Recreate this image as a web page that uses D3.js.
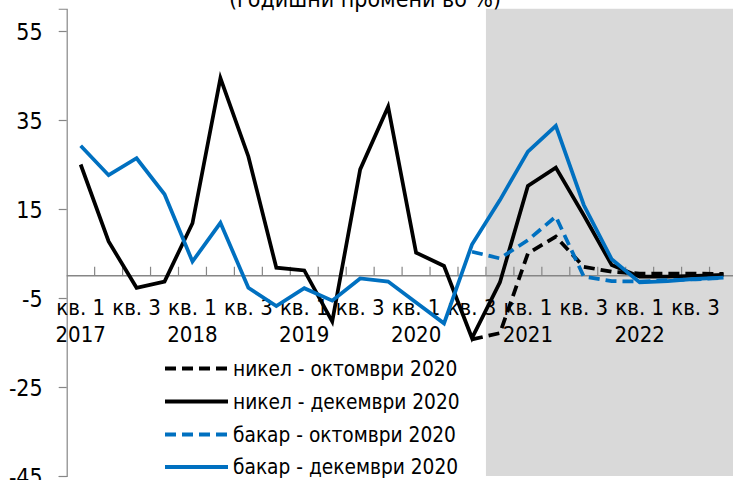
<!DOCTYPE html>
<html>
<head>
<meta charset="utf-8">
<script src="https://cdn.jsdelivr.net/npm/d3@7"></script>
<style>
  html, body { margin: 0; padding: 0; background: #fff; }
  svg { display: block; }
  text { font-family: "DejaVu Sans Condensed", "DejaVu Sans", sans-serif; font-stretch: condensed; fill: #000; }
</style>
</head>
<body>
<svg id="chart" width="733" height="480"></svg>
<script>
// Quarterly axis: 2017 Q1 … 2022 Q4
const years = [2017, 2018, 2019, 2020, 2021, 2022];
const quarterNames = ["кв. 1", "кв. 2", "кв. 3", "кв. 4"];
const yTicks = [-45, -25, -5, 15, 35, 55];

// Annual changes in %, projections (December 2020 round)
const nickelDec = [25.0, 7.7, -2.7, -1.3, 11.8, 44.4, 26.8, 1.8, 1.2, -10.3, 23.9, 38.0,
                   5.2, 2.2, -14.0, -1.5, 20.2, 24.3, 13.6, 2.4, -0.2, -0.2, 0.0, 0.2];
const copperDec = [29.2, 22.6, 26.4, 18.3, 3.2, 11.9, -2.7, -6.8, -2.8, -5.6, -0.6, -1.3,
                   -6.0, -10.7, 7.0, 17.0, 27.9, 33.7, 15.9, 3.7, -1.5, -1.2, -0.7, -0.4];
// Previous round (October 2020), from 2020 Q3 onward
const nickelOct = [null, null, null, null, null, null, null, null, null, null, null, null,
                   null, null, -14.3, -12.9, 5.0, 8.8, 2.0, 0.9, 0.5, 0.5, 0.5, 0.4];
const copperOct = [null, null, null, null, null, null, null, null, null, null, null, null,
                   null, null, 5.4, 3.9, 8.0, 13.3, -0.2, -1.2, -1.3, -1.0, -0.8, -0.5];

// First forecast quarter (2020 Q4) starts the shaded band
const forecastStart = 15;

const seriesDefs = [
  { name: "никел - октомври 2020", values: nickelOct, color: "#000000", dash: "11,6" },
  { name: "никел - декември 2020", values: nickelDec, color: "#000000", dash: null },
  { name: "бакар - октомври 2020", values: copperOct, color: "#0070C0", dash: "11,6" },
  { name: "бакар - декември 2020", values: copperDec, color: "#0070C0", dash: null }
];

const categories = [];
years.forEach(yr => quarterNames.forEach((q, k) => categories.push({ year: yr, q: k, label: q })));

const svg = d3.select("#chart");
const left = 66.7, bandW = 27.95;
const x = d3.scaleBand().domain(d3.range(categories.length))
  .range([left, left + bandW * categories.length]).paddingInner(0).paddingOuter(0);
const cx = i => x(i) + x.bandwidth() / 2;
const y = d3.scaleLinear().domain([-45, 60]).range([476, 8.75]);

// Forecast shading
svg.append("rect")
  .attr("x", x(forecastStart)).attr("y", y(60))
  .attr("width", 733 - x(forecastStart)).attr("height", y(-45) - y(60))
  .attr("fill", "#d9d9d9");

// Title (upper part runs past the top edge)
svg.append("text")
  .attr("x", 365).attr("y", 6.5)
  .attr("text-anchor", "middle").attr("font-size", 23)
  .text("(годишни промени во %)");

// Y axis (plain hyphen for negatives)
const yAxis = svg.append("g").attr("transform", `translate(${left},0)`)
  .call(d3.axisLeft(y).tickValues(yTicks).tickSize(8).tickPadding(16).tickFormat(d => String(d)));
yAxis.select(".domain").attr("stroke", "#868686").attr("stroke-width", 1.2);
yAxis.selectAll(".tick line").attr("stroke", "#868686").attr("stroke-width", 1.2);
yAxis.selectAll(".tick text").attr("font-size", 23).attr("dy", "0.36em")
  .style("font-family", "'DejaVu Sans Condensed', 'DejaVu Sans', sans-serif");

// Category axis along zero
const y0 = y(0);
const xg = svg.append("g");
xg.append("line").attr("x1", left).attr("x2", x.range()[1])
  .attr("y1", y0).attr("y2", y0).attr("stroke", "#868686").attr("stroke-width", 1.5);
xg.selectAll("line.tk").data(d3.range(1, categories.length + 1)).join("line")
  .attr("class", "tk")
  .attr("x1", i => left + bandW * i).attr("x2", i => left + bandW * i)
  .attr("y1", y0).attr("y2", y0 - 9)
  .attr("stroke", "#868686").attr("stroke-width", 1.2);

const labelled = categories.map((c, i) => ({ c, i })).filter(d => d.c.q % 2 === 0);
xg.selectAll("text.q").data(labelled).join("text")
  .attr("class", "q").attr("x", d => cx(d.i)).attr("y", 314.5)
  .attr("text-anchor", "middle").attr("font-size", 22)
  .text(d => d.c.label);
xg.selectAll("text.yr").data(labelled.filter(d => d.c.q === 0)).join("text")
  .attr("class", "yr").attr("x", d => cx(d.i)).attr("y", 341.5)
  .attr("text-anchor", "middle").attr("font-size", 22)
  .text(d => d.c.year);

// Series lines
const line = d3.line().defined(v => v !== null).x((v, i) => cx(i)).y(v => y(v));
svg.append("g").selectAll("path").data(seriesDefs).join("path")
  .attr("d", s => line(s.values))
  .attr("fill", "none")
  .attr("stroke", s => s.color)
  .attr("stroke-width", 3.75)
  .attr("stroke-linejoin", "miter")
  .attr("stroke-dasharray", s => s.dash);

// Legend
const lg = svg.append("g");
const rowsY = [368.5, 401.5, 434.5, 467];
seriesDefs.forEach((s, k) => {
  lg.append("line").attr("x1", 165).attr("x2", 228)
    .attr("y1", rowsY[k]).attr("y2", rowsY[k])
    .attr("stroke", s.color).attr("stroke-width", 4)
    .attr("stroke-dasharray", s.dash);
  lg.append("text").attr("x", 233).attr("y", rowsY[k]).attr("dy", "0.36em")
    .attr("font-size", 20.7).text(s.name);
});
</script>
</body>
</html>
